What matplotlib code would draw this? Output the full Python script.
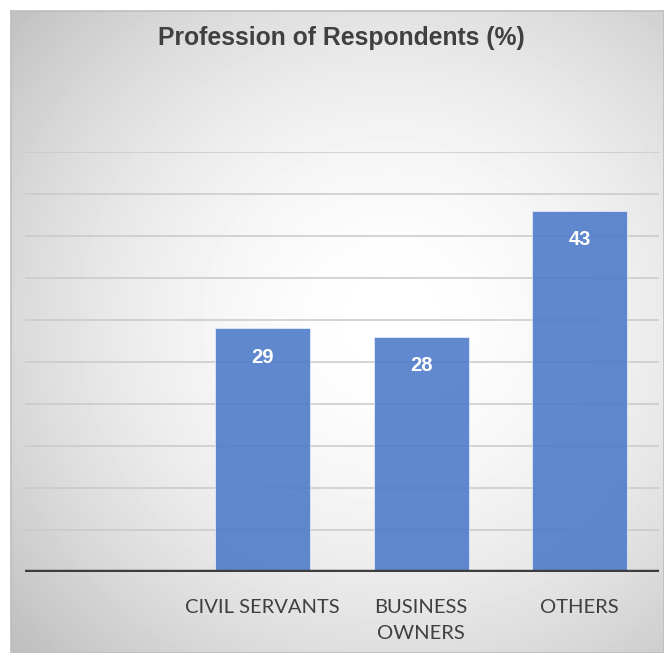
import numpy as np
import matplotlib
matplotlib.use("Agg")
from matplotlib import pyplot as plt

# profession shares in percent; the first slot stays empty
categories = ["", "CIVIL SERVANTS", "BUSINESS\nOWNERS", "OTHERS"]
values = [np.nan, 29, 28, 43]
value_labels = ["", "29", "28", "43"]

W, H = 664, 653
fig = plt.figure(figsize=(W / 100, H / 100), dpi=100)
fig.patch.set_facecolor("white")

# chart box with a soft radial shading
bg = fig.add_axes([11 / W, 0, 1 - 11 / W, 1 - 11 / H])
yy, xx = np.mgrid[0:642, 0:653]
cx, cy = 380, 310
r = np.sqrt((xx - cx) ** 2 + ((yy - cy) * 1.05) ** 2) / 470
shade = 1 - 0.22 * np.clip(r, 0, 1.1) ** 1.8
bg.imshow(shade, cmap="gray", vmin=0, vmax=1, aspect="auto",
          extent=[0, 1, 0, 1], interpolation="bilinear")
bg.set_xticks([])
bg.set_yticks([])
for s in bg.spines.values():
    s.set_color("#bdbdbd")
    s.set_linewidth(1.2)

ax = fig.add_axes([25 / W, 1 - 572 / H, 634 / W, 420 / H])
ax.patch.set_alpha(0)
x = np.arange(len(categories))
ax.set_ylim(0, 50)
ax.set_xlim(-0.5, len(categories) - 0.5)
ax.set_yticks(np.arange(5, 51, 5))
ax.yaxis.grid(True, color="#c9c9c9", linewidth=1.1)
ax.set_axisbelow(True)

bars = ax.bar(x, values, width=0.6, color="#4f7ccb", alpha=0.9,
              edgecolor="#e8eef8", linewidth=0.6)
for xi, v, lab in zip(x, values, value_labels):
    if lab:
        ax.annotate(lab, (xi, v), xytext=(0, -21), textcoords="offset points",
                    ha="center", va="center", color="white",
                    fontsize=14.5, fontweight="bold", family="Liberation Sans")

ax.axhline(0, color="#3d3d3d", linewidth=3.2, zorder=5)
for s in ax.spines.values():
    s.set_visible(False)
ax.tick_params(axis="y", left=False, labelleft=False)
ax.tick_params(axis="x", bottom=False, pad=16)
ax.set_xticks(x)
ax.set_xticklabels(categories, fontsize=14.5, color="#404040", family="Lato",
                   linespacing=1.65, va="top")

fig.text(341 / W, 1 - 38 / H, "Profession of Respondents (%)", ha="center",
         va="center", fontsize=17.8, fontweight="bold", color="#404040",
         family="Liberation Sans")

fig.savefig("out.png", dpi=100)
